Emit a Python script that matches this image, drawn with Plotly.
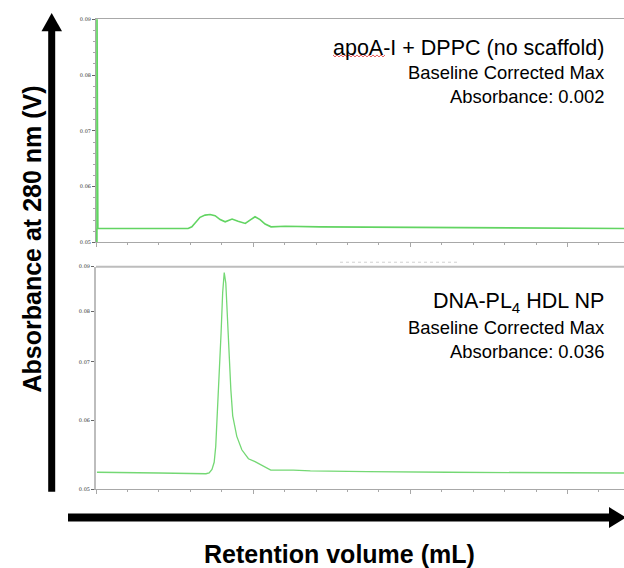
import plotly.graph_objects as go
import numpy as np

# ---------------- data ----------------
# Top panel: apoA-I + DPPC (no scaffold)
top_x = [0.0, 0.03, 0.03, 0.06, 1.0, 2.0, 2.93, 3.05, 3.15, 3.31, 3.47, 3.63, 3.79, 3.95,
         4.11, 4.22, 4.33, 4.52, 4.75, 4.90, 5.06, 5.22, 5.38, 5.57, 6.02, 7.13, 9.68,
         12.87, 16.8]
top_y = [0.0525, 0.0490, 0.0950, 0.0525, 0.0525, 0.0525, 0.0525, 0.0528, 0.0535, 0.0545,
         0.0549, 0.0550, 0.0548, 0.0541, 0.0537, 0.0540, 0.0542, 0.0538, 0.0534, 0.0540,
         0.0546, 0.0541, 0.0533, 0.0528, 0.0529, 0.0528, 0.0527, 0.0526, 0.0525]

# Bottom panel: DNA-PL4 HDL NP
bot_x = [0.03, 1.0, 2.0, 3.5, 3.6, 3.69, 3.76, 3.81, 3.86, 3.92, 3.98, 4.03, 4.08, 4.13,
         4.18, 4.23, 4.29, 4.35, 4.48, 4.64, 4.85, 5.06, 5.56, 6.28, 6.82, 8.62, 11.17, 16.8]
bot_y = [0.0523, 0.0523, 0.0522, 0.0521, 0.0522, 0.0527, 0.0537, 0.0560, 0.0607, 0.0662,
         0.0756, 0.0840, 0.0886, 0.0862, 0.0789, 0.0710, 0.0651, 0.0607, 0.0575, 0.0555,
         0.0542, 0.0538, 0.0526, 0.0526, 0.0525, 0.0524, 0.0523, 0.0522]

y_ticks = [0.05, 0.06, 0.07, 0.08, 0.09]
y_ticklabels = ["0.05", "0.06", "0.07", "0.08", "0.09"]

top_labels = ["apoA-I + DPPC (no scaffold)", "Baseline Corrected Max", "Absorbance: 0.002"]
bot_labels = ["DNA-PL<sub>4</sub> HDL NP", "Baseline Corrected Max", "Absorbance: 0.036"]

x_title = "Retention volume (mL)"
y_title = "Absorbance at 280 nm (V)"

# ---------------- figure ----------------
W, H = 624, 568
GREEN = "#62d462"
GREEN2 = "#74d874"
AX = "#a8a8a8"
FONT = "Arial, Liberation Sans, sans-serif"


def px(x):
    return x / W


def py(y):
    return 1 - y / H


fig = go.Figure()
fig.add_trace(go.Scatter(x=top_x, y=top_y, mode="lines", xaxis="x", yaxis="y",
                         line=dict(color=GREEN, width=1.6), showlegend=False))
fig.add_trace(go.Scatter(x=bot_x, y=bot_y, mode="lines", xaxis="x2", yaxis="y2",
                         line=dict(color=GREEN2, width=1.3), showlegend=False))

xdom = [px(96), 1.0]
top_dom = [py(242), py(16.5)]
bot_dom = [py(491.5), py(266.5)]

xcommon = dict(range=[0, 16.8], tick0=0, dtick=5, ticks="outside", ticklen=4,
               tickcolor=AX, showticklabels=False, showgrid=False, zeroline=False,
               showline=True, linecolor=AX, linewidth=1,
               minor=dict(dtick=1, ticks="outside", ticklen=2, tickcolor=AX))

tickfont = dict(family="DejaVu Serif, serif", size=5, color="#333")

fig.update_layout(
    width=W, height=H, autosize=False,
    margin=dict(l=0, r=0, t=0, b=0),
    paper_bgcolor="white", plot_bgcolor="white",
    xaxis=dict(domain=xdom, anchor="y", mirror=True, **xcommon),
    xaxis2=dict(domain=xdom, anchor="y2", **xcommon),
    yaxis=dict(domain=top_dom, anchor="x", range=[0.05, 0.09], tickvals=y_ticks,
               ticktext=y_ticklabels, ticks="outside", ticklen=3, tickcolor="#666",
               tickfont=tickfont, showgrid=False, zeroline=False, showline=True,
               linecolor=AX, linewidth=1,
               minor=dict(dtick=0.002, ticks="outside", ticklen=2, tickcolor=AX)),
    yaxis2=dict(domain=bot_dom, anchor="x2", type="log",
                range=[np.log10(0.05), np.log10(0.09)], tickvals=y_ticks,
                ticktext=y_ticklabels, ticks="outside", ticklen=3, tickcolor="#666",
                tickfont=tickfont, showgrid=False, zeroline=False, showline=True,
                linecolor="#bdbdbd", linewidth=2),
)

shapes = []
# top border of bottom panel (thicker gray)
shapes.append(dict(type="line", xref="paper", yref="paper", x0=px(96), x1=1.0,
                   y0=py(266.5), y1=py(266.5), line=dict(color="#bdbdbd", width=2)))
# faint dotted artefact line between the panels
shapes.append(dict(type="line", xref="paper", yref="paper", x0=px(340), x1=px(457),
                   y0=py(262), y1=py(262), line=dict(color="#d0d0d0", width=1, dash="dot")))
# vertical arrow
shapes.append(dict(type="line", xref="paper", yref="paper", x0=px(51.7), x1=px(51.7),
                   y0=py(494), y1=py(26), line=dict(color="black", width=7)))
shapes.append(dict(type="path", xref="paper", yref="paper",
                   path=f"M {px(41.5)} {py(28.5)} L {px(51.7)} {py(10)} L {px(62)} {py(28.5)} Z",
                   fillcolor="black", line=dict(color="black", width=0)))
# horizontal arrow
shapes.append(dict(type="line", xref="paper", yref="paper", x0=px(68), x1=px(611),
                   y0=py(520), y1=py(520), line=dict(color="black", width=8)))
shapes.append(dict(type="path", xref="paper", yref="paper",
                   path=f"M {px(609)} {py(509.5)} L {px(626)} {py(520)} L {px(609)} {py(530.5)} Z",
                   fillcolor="black", line=dict(color="black", width=0)))
# red spell-check squiggle under "apoA"
zz = []
xs = np.arange(333, 387, 2.0)
for i, xv in enumerate(xs):
    yv = 52.5 if i % 2 == 0 else 54.5
    zz.append(f"{'M' if i == 0 else 'L'} {px(xv)} {py(yv)}")
shapes.append(dict(type="path", xref="paper", yref="paper", path=" ".join(zz),
                   line=dict(color="#e03030", width=0.8)))
fig.update_layout(shapes=shapes)

ann = []
sizes = [21.5, 18.4, 18.4]
top_ys = [45, 70, 94]
bot_ys = [303, 328, 352]
for t, yy, s in zip(top_labels, top_ys, sizes):
    ann.append(dict(text=t, xref="paper", yref="paper", x=px(606), y=py(yy),
                    xanchor="right", yanchor="middle", showarrow=False,
                    font=dict(family=FONT, size=s, color="black")))
for t, yy, s in zip(bot_labels, bot_ys, sizes):
    ann.append(dict(text=t, xref="paper", yref="paper", x=px(606), y=py(yy),
                    xanchor="right", yanchor="middle", showarrow=False,
                    font=dict(family=FONT, size=s, color="black")))
ann.append(dict(text=f"<b>{x_title}</b>", xref="paper", yref="paper", x=px(339), y=py(557),
                xanchor="center", yanchor="middle", showarrow=False,
                font=dict(family=FONT, size=25, color="black")))
ann.append(dict(text=f"<b>{y_title}</b>", xref="paper", yref="paper", x=px(32), y=py(239),
                xanchor="center", yanchor="middle", showarrow=False, textangle=-90,
                font=dict(family=FONT, size=25, color="black")))
fig.update_layout(annotations=ann)

fig.write_html("out.html")
